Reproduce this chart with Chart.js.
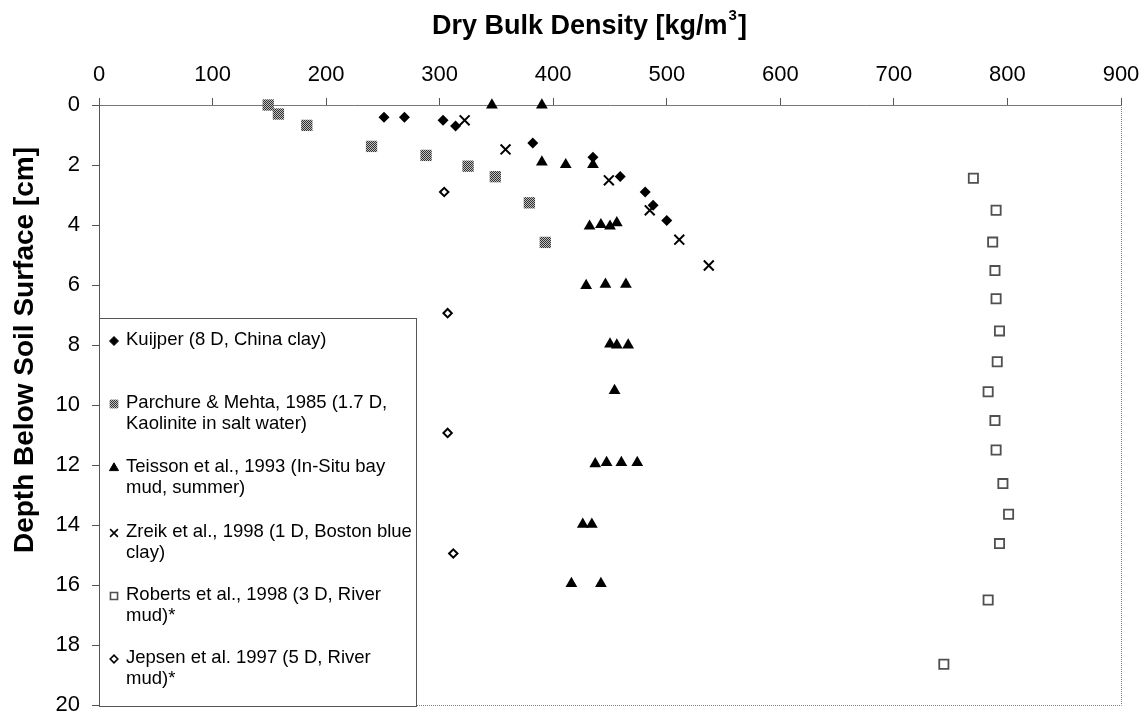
<!DOCTYPE html>
<html>
<head>
<meta charset="utf-8">
<title>Dry Bulk Density vs Depth</title>
<script src="https://cdn.jsdelivr.net/npm/chart.js@4.4.1/dist/chart.umd.min.js"></script>
<style>
  body { margin: 0; background: #fff; }
</style>
</head>
<body>
<canvas id="myChart" width="1146" height="716"></canvas>
<script>
// values: dry bulk density [kg/m3] vs depth [cm]
const kuijperDensity  = [251, 269, 303, 314, 382, 435, 459, 481, 488, 500];
const kuijperDepth    = [0.41, 0.41, 0.51, 0.70, 1.27, 1.74, 2.38, 2.90, 3.34, 3.85];

const parchureDensity = [149, 158, 183, 240, 288, 325, 349, 379, 393];
const parchureDepth   = [0.0, 0.30, 0.68, 1.38, 1.68, 2.04, 2.39, 3.26, 4.58];

const teissonDensity  = [346, 390, 390, 411, 435, 432, 442, 450, 456, 429, 446, 464,
                         450, 456, 466, 454, 437, 447, 460, 474, 426, 434, 416, 442];
const teissonDepth    = [0.0, 0.0, 1.90, 1.99, 1.99, 4.04, 3.99, 4.04, 3.93, 6.02, 5.98, 5.98,
                         7.97, 8.0, 8.0, 9.52, 11.96, 11.92, 11.92, 11.92, 13.98, 13.98, 15.95, 15.95];

const zreikDensity    = [322, 358, 449, 485, 511, 537];
const zreikDepth      = [0.51, 1.48, 2.51, 3.51, 4.49, 5.35];

const robertsDensity  = [770, 790, 787, 789, 790, 793, 791, 783, 789, 790, 796, 801, 793, 783, 744];
const robertsDepth    = [2.44, 3.51, 4.57, 5.52, 6.46, 7.53, 8.56, 9.56, 10.52, 11.5, 12.62, 13.64, 14.62, 16.5, 18.64];

const jepsenDensity   = [304, 307, 307, 312];
const jepsenDepth     = [2.9, 6.94, 10.93, 14.95];

const legendLines = [
    ['Kuijper (8 D, China clay)'],
    ['Parchure & Mehta, 1985 (1.7 D,', 'Kaolinite in salt water)'],
    ['Teisson et al., 1993 (In-Situ bay', 'mud, summer)'],
    ['Zreik et al., 1998 (1 D, Boston blue', 'clay)'],
    ['Roberts et al., 1998 (3 D, River', 'mud)*'],
    ['Jepsen et al. 1997 (5 D, River', 'mud)*']
];

const xTitle = 'Dry Bulk Density [kg/m';
const xTitleSup = '3';
const yTitle = 'Depth Below Soil Surface [cm]';

const FONT = '"Liberation Sans", Arial, Helvetica, sans-serif';

const canvas = document.getElementById('myChart');
const ctx0 = canvas.getContext('2d');

// dithered grey fill like the original square markers
function checker() {
    const c = document.createElement('canvas');
    c.width = 2; c.height = 2;
    const g = c.getContext('2d');
    g.fillStyle = '#c0c0c0';
    g.fillRect(0, 0, 2, 2);
    g.fillStyle = '#303030';
    g.fillRect(0, 0, 1, 1);
    g.fillRect(1, 1, 1, 1);
    return ctx0.createPattern(c, 'repeat');
}
const greyFill = checker();

function pts(xs, ys) {
    return xs.map((x, i) => ({x: x, y: ys[i]}));
}

const datasets = [
    {
        label: legendLines[0].join(' '),
        data: pts(kuijperDensity, kuijperDepth),
        pointStyle: 'rectRot', pointRadius: 5.5, borderWidth: 0,
        backgroundColor: '#000', borderColor: '#000',
        legendRadius: 4.5
    },
    {
        label: legendLines[1].join(' '),
        data: pts(parchureDensity, parchureDepth),
        pointStyle: 'rect', pointRadius: 8, borderWidth: 0,
        backgroundColor: greyFill, borderColor: greyFill,
        legendRadius: 5.5
    },
    {
        label: legendLines[2].join(' '),
        data: pts(teissonDensity, teissonDepth),
        pointStyle: 'triangle', pointRadius: 6.8, borderWidth: 0,
        backgroundColor: '#000', borderColor: '#000',
        legendRadius: 5.2
    },
    {
        label: legendLines[3].join(' '),
        data: pts(zreikDensity, zreikDepth),
        pointStyle: 'crossRot', pointRadius: 7, borderWidth: 2,
        backgroundColor: '#000', borderColor: '#000',
        legendRadius: 5.5
    },
    {
        label: legendLines[4].join(' '),
        data: pts(robertsDensity, robertsDepth),
        pointStyle: 'rect', pointRadius: 6.5, borderWidth: 1.8,
        backgroundColor: '#fff', borderColor: '#505050',
        legendRadius: 5
    },
    {
        label: legendLines[5].join(' '),
        data: pts(jepsenDensity, jepsenDepth),
        pointStyle: 'rectRot', pointRadius: 4.2, borderWidth: 2,
        backgroundColor: '#fff', borderColor: '#000',
        legendRadius: 3.8
    }
];
datasets.forEach(ds => { ds.clip = false; });

// titles with superscript, dotted right/bottom frame, boxed two-line legend
const decorations = {
    id: 'decorations',
    afterDraw(chart) {
        const ctx = chart.ctx;
        const a = chart.chartArea;
        ctx.save();

        // frame on right and bottom
        ctx.strokeStyle = '#808080';
        ctx.lineWidth = 1;
        ctx.setLineDash([1, 1]);
        ctx.beginPath();
        ctx.moveTo(a.right + 0.5, a.top);
        ctx.lineTo(a.right + 0.5, a.bottom + 0.5);
        ctx.lineTo(a.left, a.bottom + 0.5);
        ctx.stroke();
        ctx.setLineDash([]);

        // x title
        ctx.fillStyle = '#000';
        ctx.textBaseline = 'alphabetic';
        ctx.textAlign = 'left';
        const big = 'bold 27px ' + FONT;
        const small = 'bold 15px ' + FONT;
        ctx.font = big;
        const w1 = ctx.measureText(xTitle).width;
        const w3 = ctx.measureText(']').width;
        ctx.font = small;
        const w2 = ctx.measureText(xTitleSup).width;
        let tx = 590 - (w1 + w2 + w3 + 3) / 2;
        ctx.font = big;
        ctx.fillText(xTitle, tx, 34);
        ctx.font = small;
        ctx.fillText(xTitleSup, tx + w1 + 1, 20);
        ctx.font = big;
        ctx.fillText(']', tx + w1 + w2 + 2, 34);

        // y title
        ctx.save();
        ctx.translate(33, 350);
        ctx.rotate(-Math.PI / 2);
        ctx.textAlign = 'center';
        ctx.font = 'bold 28px ' + FONT;
        ctx.fillText(yTitle, 0, 0);
        ctx.restore();

        // legend box
        ctx.fillStyle = '#fff';
        ctx.fillRect(99.5, 318.5, 317, 388);
        ctx.strokeStyle = '#555';
        ctx.lineWidth = 1;
        ctx.strokeRect(99.5, 318.5, 317, 388);

        const rowY = [340, 403, 467, 532, 595, 658];
        ctx.font = '18.5px ' + FONT;
        ctx.textBaseline = 'middle';
        ctx.textAlign = 'left';
        chart.data.datasets.forEach((ds, i) => {
            ctx.fillStyle = ds.backgroundColor;
            ctx.strokeStyle = ds.borderColor;
            ctx.lineWidth = ds.borderWidth ? Math.min(ds.borderWidth, 1.6) : 0;
            Chart.helpers.drawPoint(ctx, {
                pointStyle: ds.pointStyle,
                radius: ds.legendRadius,
                rotation: 0,
                borderWidth: ctx.lineWidth
            }, 114, rowY[i] + 1);
            ctx.fillStyle = '#000';
            legendLines[i].forEach((line, j) => {
                ctx.fillText(line, 126, rowY[i] + j * 21);
            });
        });
        ctx.restore();
    }
};

const myChart = new Chart(canvas, {
    type: 'scatter',
    data: { datasets: datasets },
    options: {
        responsive: false,
        animation: false,
        devicePixelRatio: 1,
        events: [],
        layout: { padding: { left: 0, top: 0, right: 25, bottom: 11 } },
        plugins: {
            legend: { display: false },
            tooltip: { enabled: false },
            title: { display: false }
        },
        scales: {
            x: {
                type: 'linear',
                position: 'top',
                min: 0,
                max: 900,
                ticks: {
                    stepSize: 100,
                    color: '#000',
                    padding: 10,
                    maxRotation: 0,
                    font: { family: FONT, size: 22 }
                },
                grid: { drawOnChartArea: false, drawTicks: true, tickLength: 7, color: '#555' },
                border: { display: true, color: '#777' },
                afterFit: (s) => {
                    s.height = 105;
                    s.paddingLeft = 0;
                    s.paddingRight = 0;
                }
            },
            y: {
                type: 'linear',
                reverse: true,
                min: 0,
                max: 20,
                ticks: {
                    stepSize: 2,
                    color: '#000',
                    padding: 12,
                    font: { family: FONT, size: 22 }
                },
                grid: { drawOnChartArea: false, drawTicks: true, tickLength: 7, color: '#555' },
                border: { display: true, color: '#555' },
                afterFit: (s) => {
                    s.width = 99;
                    s.paddingTop = 0;
                    s.paddingBottom = 0;
                }
            }
        }
    },
    plugins: [decorations]
});
</script>
</body>
</html>
